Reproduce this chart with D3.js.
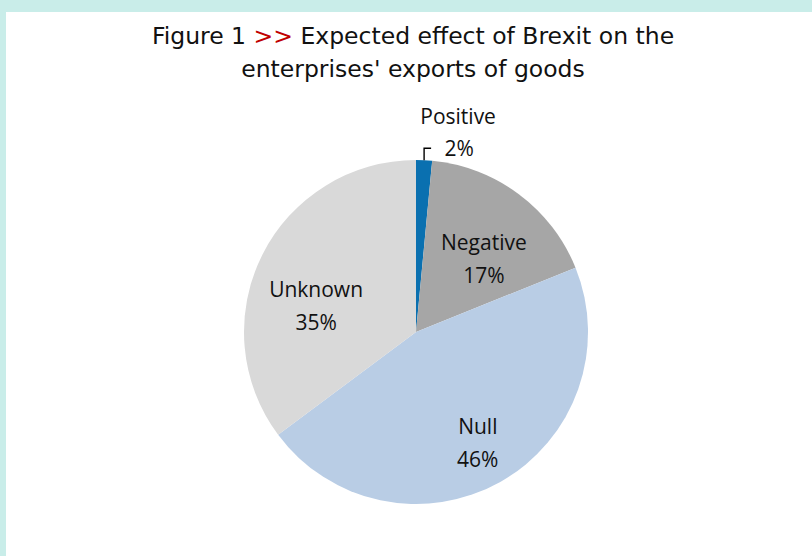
<!DOCTYPE html>
<html>
<head>
<meta charset="utf-8">
<script src="https://cdn.jsdelivr.net/npm/d3@7"></script>
<style>
	body { margin: 0; background: #fff; }
	svg { display: block; }
</style>
</head>
<body>
<div id="chart"></div>
<script>
// data
const categories = ['Positive', 'Negative', 'Null', 'Unknown'];
const shares = [1.5, 17.4, 45.9, 35.2];
const colors = ['#0a70b0', '#a6a6a6', '#b9cde5', '#d9d9d9'];

// per-label nudges from the arc centroid (Excel puts them a bit off)
const labelNudge = [[0, 0], [1, 13], [7, 10], [0, 20]];

const W = 812, H = 556;
const cx = 416, cy = 332, r = 172;

const svg = d3.select('#chart').append('svg').attr('width', W).attr('height', H);

// cyan frame on top and left
svg.append('rect').attr('width', W).attr('height', H).attr('fill', '#c9ede9');
svg.append('rect').attr('x', 6).attr('y', 12).attr('width', W - 6).attr('height', H - 12).attr('fill', '#fff');

// title
const title = svg.append('text')
	.attr('text-anchor', 'middle')
	.style('font-family', 'DejaVu Sans')
	.style('font-size', '23.5px')
	.attr('fill', '#111');
const t1 = title.append('tspan').attr('x', 413).attr('y', 44);
t1.append('tspan').text('Figure 1 ');
t1.append('tspan').attr('fill', '#c00000').text('>>');
t1.append('tspan').text(' Expected effect of Brexit on the');
title.append('tspan').attr('x', 413).attr('y', 77).text("enterprises' exports of goods");

const data = categories.map((c, i) => ({ cat: c, value: shares[i], color: colors[i], nudge: labelNudge[i] }));

const pie = d3.pie().sort(null).value(d => d.value);
const arc = d3.arc().innerRadius(0).outerRadius(r);
const labelArc = d3.arc().innerRadius(r * 0.65).outerRadius(r * 0.65);
const arcs = pie(data);

const g = svg.append('g').attr('transform', 'translate(' + cx + ',' + cy + ')');

g.selectAll('path.slice')
	.data(arcs)
	.enter()
	.append('path')
	.attr('class', 'slice')
	.attr('d', arc)
	.attr('fill', d => d.data.color);

const pct = d => Math.round(d.data.value) + '%';

// inside labels
const inside = arcs.slice(1);
const lab = g.selectAll('text.lab')
	.data(inside)
	.enter()
	.append('text')
	.attr('class', 'lab')
	.attr('text-anchor', 'middle')
	.style('font-family', 'Open Sans')
	.style('font-size', '21px')
	.attr('fill', '#111');
lab.attr('transform', d => {
	const c = labelArc.centroid(d);
	return 'translate(' + (c[0] + d.data.nudge[0]) + ',' + (c[1] + d.data.nudge[1]) + ')';
});
lab.append('tspan').attr('x', 0).attr('y', -5).text(d => d.data.cat);
lab.append('tspan').attr('x', 0).attr('y', 28).text(pct);

// Positive: outside label with leader line
const pos = arcs[0];
const mid = (pos.startAngle + pos.endAngle) / 2;
const ex = r * Math.sin(mid), ey = -r * Math.cos(mid);
const ly = ey - 12;
g.append('path')
	.attr('d', 'M' + ex + ',' + ey + 'V' + ly + 'H' + (ex + 7))
	.attr('fill', 'none')
	.attr('stroke', '#000')
	.attr('stroke-width', 1.4);
const pl = g.append('text')
	.attr('text-anchor', 'middle')
	.style('font-family', 'Open Sans')
	.style('font-size', '21px')
	.attr('fill', '#111');
pl.append('tspan').attr('x', ex + 34).attr('y', ly - 24).text(pos.data.cat);
pl.append('tspan').attr('x', ex + 35).attr('y', ly + 8).text(pct(pos));
</script>
</body>
</html>
